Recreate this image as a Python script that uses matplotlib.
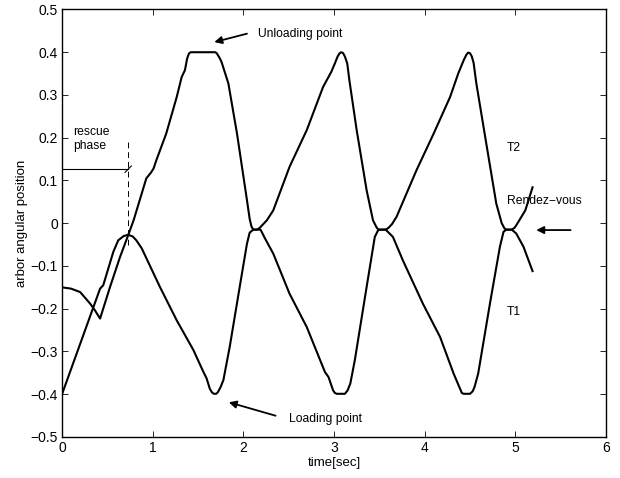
import matplotlib
matplotlib.use("Agg")
import matplotlib.pyplot as plt

plt.rcParams['font.family'] = ['Liberation Sans', 'DejaVu Sans']

# upper trajectory (starts at -0.15, T2 after first crossing)
t_upper = [0.00, 0.10, 0.20, 0.31, 0.364, 0.42, 0.53, 0.64, 0.73, 0.79, 0.93, 0.98,
           1.01, 1.04, 1.15, 1.265, 1.32, 1.356, 1.38, 1.40, 1.42, 1.44, 1.69, 1.705,
           1.72, 1.74, 1.76, 1.835, 1.93, 2.04, 2.07, 2.09, 2.11, 2.15, 2.18, 2.22,
           2.26, 2.33, 2.51, 2.70, 2.88, 2.97, 3.01, 3.04, 3.06, 3.08, 3.10, 3.12,
           3.146, 3.17, 3.25, 3.36, 3.43, 3.47, 3.49, 3.57, 3.60, 3.64, 3.69, 3.91,
           4.10, 4.28, 4.37, 4.43, 4.46, 4.48, 4.50, 4.52, 4.54, 4.57, 4.68, 4.79,
           4.85, 4.88, 4.90, 4.96, 4.99, 5.01, 5.11, 5.19]
y_upper = [-0.150, -0.153, -0.161, -0.188, -0.204, -0.223, -0.149, -0.079, -0.028, 0.007,
           0.105, 0.118, 0.128, 0.147, 0.210, 0.295, 0.342, 0.358, 0.385, 0.397, 0.400,
           0.400, 0.400, 0.398, 0.393, 0.386, 0.377, 0.327, 0.210, 0.054, 0.010,
           -0.008, -0.015, -0.015, -0.011, -0.002, 0.007, 0.030, 0.132, 0.218, 0.319,
           0.354, 0.374, 0.390, 0.397, 0.400, 0.398, 0.390, 0.374, 0.334, 0.218,
           0.077, 0.007, -0.010, -0.015, -0.015, -0.011, -0.002, 0.015, 0.124, 0.210,
           0.295, 0.350, 0.381, 0.394, 0.399, 0.398, 0.390, 0.375, 0.327, 0.186,
           0.046, 0.000, -0.012, -0.015, -0.015, -0.011, -0.005, 0.030, 0.084]

# lower trajectory (starts at -0.4, T1 after first crossing)
t_lower = [0.00, 0.42, 0.455, 0.566, 0.62, 0.68, 0.73, 0.78, 0.82, 0.88, 1.08, 1.265,
           1.45, 1.56, 1.595, 1.63, 1.655, 1.676, 1.70, 1.72, 1.75, 1.78, 1.85, 1.96,
           2.04, 2.07, 2.11, 2.15, 2.19, 2.24, 2.33, 2.51, 2.70, 2.90, 2.94, 2.99,
           3.01, 3.03, 3.12, 3.15, 3.18, 3.23, 3.36, 3.45, 3.49, 3.53, 3.57, 3.65,
           3.76, 3.98, 4.17, 4.32, 4.35, 4.41, 4.43, 4.50, 4.53, 4.55, 4.59, 4.72,
           4.83, 4.87, 4.90, 4.96, 5.01, 5.09, 5.19]
y_lower = [-0.400, -0.153, -0.145, -0.067, -0.040, -0.030, -0.027, -0.031, -0.040,
           -0.059, -0.149, -0.227, -0.297, -0.348, -0.363, -0.387, -0.396, -0.399,
           -0.399, -0.395, -0.383, -0.367, -0.289, -0.149, -0.048, -0.022, -0.015,
           -0.015, -0.015, -0.036, -0.071, -0.165, -0.243, -0.348, -0.360, -0.391,
           -0.397, -0.399, -0.399, -0.391, -0.375, -0.320, -0.149, -0.032, -0.015,
           -0.015, -0.015, -0.032, -0.087, -0.188, -0.266, -0.352, -0.367, -0.397,
           -0.399, -0.399, -0.393, -0.383, -0.352, -0.188, -0.055, -0.020, -0.015,
           -0.015, -0.024, -0.055, -0.112]

x_ticks = [0, 1, 2, 3, 4, 5, 6]
y_ticks = [-0.5, -0.4, -0.3, -0.2, -0.1, 0, 0.1, 0.2, 0.3, 0.4, 0.5]
y_tick_labels = ['\u22120.5', '\u22120.4', '\u22120.3', '\u22120.2', '\u22120.1', '0',
                 '0.1', '0.2', '0.3', '0.4', '0.5']

rescue_t = 0.73
rescue_level = 0.128

fig = plt.figure(figsize=(6.2, 4.78), dpi=100)
ax = fig.add_axes([0.1, 0.0858, 0.8774, 0.8944])

ax.plot(t_upper, y_upper, color='k', lw=1.5, solid_joinstyle='round')
ax.plot(t_lower, y_lower, color='k', lw=1.5, solid_joinstyle='round')

# rescue phase marker
ax.plot([0, rescue_t], [rescue_level, rescue_level], color='k', lw=0.8)
ax.plot([rescue_t - 0.035, rescue_t + 0.035], [rescue_level - 0.009, rescue_level + 0.006],
        color='k', lw=0.8)
ax.plot([rescue_t, rescue_t], [0.19, -0.06], color='k', lw=0.7, ls=(0, (6, 4)))
ax.text(0.125, 0.197, 'rescue\nphase', fontsize=8.7, ha='left', va='center',
        linespacing=1.25)

arrow = dict(arrowstyle='-|>', color='k', lw=1.3, mutation_scale=11)
ax.annotate('', xy=(1.65, 0.422), xytext=(2.07, 0.445), arrowprops=arrow)
ax.text(2.16, 0.442, 'Unloading point', fontsize=8.7, ha='left', va='center')
ax.annotate('', xy=(1.81, -0.417), xytext=(2.385, -0.452), arrowprops=arrow)
ax.text(2.50, -0.459, 'Loading point', fontsize=8.7, ha='left', va='center')
ax.annotate('', xy=(5.20, -0.016), xytext=(5.64, -0.016), arrowprops=arrow)
ax.text(4.91, 0.052, 'Rendez\u2212vous', fontsize=8.7, ha='left', va='center')
ax.text(4.90, 0.175, 'T2', fontsize=8.7, ha='left', va='center')
ax.text(4.90, -0.207, 'T1', fontsize=8.7, ha='left', va='center')

ax.set_xlim(0, 6)
ax.set_ylim(-0.5, 0.5)
ax.set_xticks(x_ticks)
ax.set_yticks(y_ticks)
ax.set_yticklabels(y_tick_labels)
ax.tick_params(direction='in', length=4, width=0.6, top=True, right=True,
               labelsize=10, pad=3)
for s in ax.spines.values():
    s.set_linewidth(1.0)
ax.set_xlabel('time[sec]', fontsize=9.5, labelpad=1)
ax.set_ylabel('arbor angular position', fontsize=9.5, labelpad=2)

fig.savefig('out.png', dpi=100)
